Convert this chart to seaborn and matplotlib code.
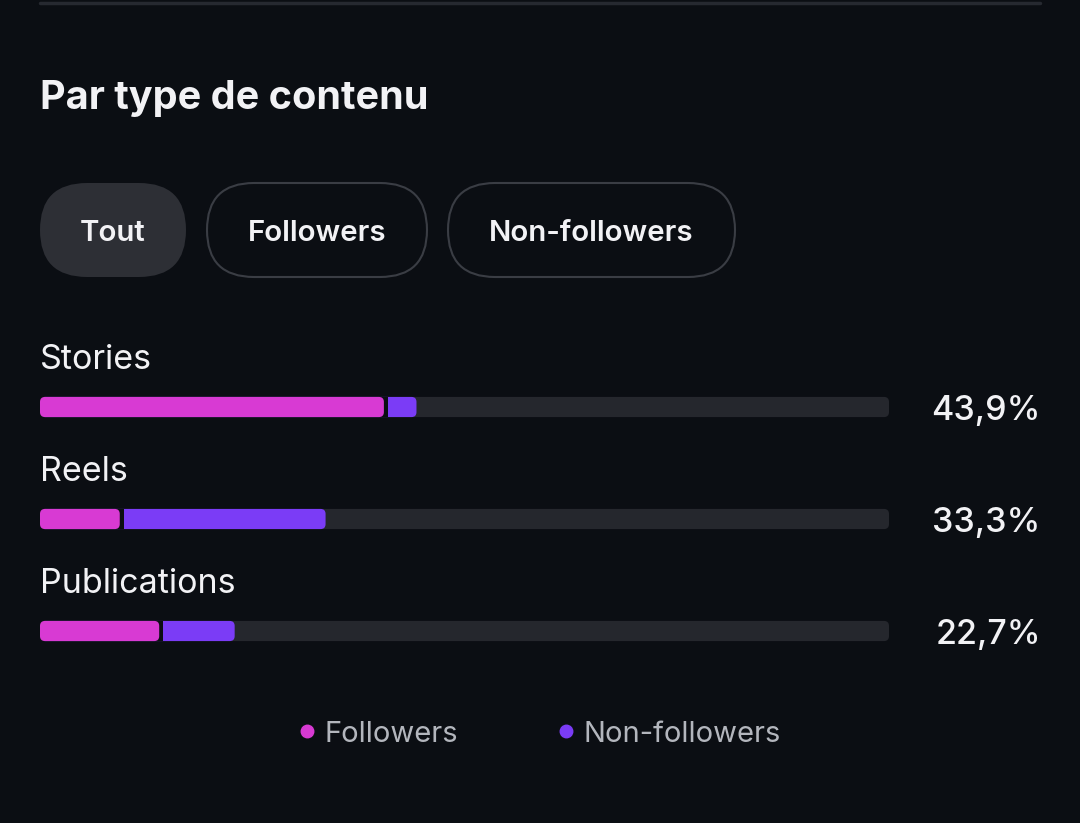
import pandas as pd
import matplotlib.pyplot as plt
import seaborn as sns
from matplotlib.patches import FancyBboxPatch
from matplotlib.lines import Line2D

# data
categories = ['Stories', 'Reels', 'Publications']
totals = [43.9, 33.3, 22.7]
followers = [40.1, 9.3, 13.9]
labels = ['43,9%', '33,3%', '22,7%']
filters = ['Tout', 'Followers', 'Non-followers']
legend_names = ['Followers', 'Non-followers']

BG = '#0b0e13'
TRACK = '#25272d'
PINK = '#d83ad3'
VIOLET = '#7b3cf6'
WHITE = '#f2f2f5'
GREY = '#b3b6bd'

sns.set_theme(style='white')
plt.rcParams['font.family'] = ['Inter', 'DejaVu Sans']

df = pd.DataFrame({'cat': categories, 'total': totals, 'fol': followers,
                   'full': [99] * len(categories)})
df['mask'] = df['fol'] + 0.5

W, H = 1080, 823
fig = plt.figure(figsize=(W / 100, H / 100), dpi=100, facecolor=BG)

# pixel-space overlay for header, pills and divider
deco = fig.add_axes([0, 0, 1, 1])
deco.set_xlim(0, W)
deco.set_ylim(H, 0)
deco.axis('off')
deco.set_facecolor(BG)
deco.plot([40, 1040], [3, 3], color='#262930', lw=2.5, solid_capstyle='round')
deco.text(40, 98, 'Par type de contenu', color=WHITE, fontsize=28.5,
          fontweight='bold', va='center', ha='left')

pills = [(40, 186), (207, 427), (448, 735)]
for i, (name, (x0, x1)) in enumerate(zip(filters, pills)):
    y0, y1 = 183, 277
    r = (y1 - y0) / 2
    if i == 0:
        box = FancyBboxPatch((x0, y0), x1 - x0, y1 - y0,
                             boxstyle=f'round,pad=0,rounding_size={r}',
                             fc='#2d2f35', ec='none')
    else:
        box = FancyBboxPatch((x0, y0), x1 - x0, y1 - y0,
                             boxstyle=f'round,pad=0,rounding_size={r}',
                             fc='none', ec='#3a3d44', lw=1.5)
    deco.add_patch(box)
    deco.text((x0 + x1) / 2, 233, name, color=WHITE, fontsize=21.2,
              fontweight='semibold', ha='center', va='center')

# bar axes: x in percent, rows 112 px apart
ax = fig.add_axes([40 / W, 1 - 687 / H, 849 / W, 336 / H])
ax.set_facecolor('none')


def add_bars(x, color):
    n0 = len(ax.patches)
    sns.barplot(data=df, y='cat', x=x, color=color, orient='h', width=0.18,
                ax=ax, saturation=1, linewidth=0)
    return list(ax.patches[n0:])


groups = [(add_bars('full', TRACK), True), (add_bars('total', VIOLET), True),
          (add_bars('mask', BG), False), (add_bars('fol', PINK), True)]

ax.set_xlim(0, 99)
ax.set_ylim(2.5, -0.5)
ax.axis('off')

# round bar ends (5 px radius), keeping the layer order
dx = 99 / 849
dy = 3 / 336
for z, (patches, rounded) in enumerate(groups):
    for p in patches:
        p.set_zorder(2 + z)
        if not rounded:
            continue
        fb = FancyBboxPatch(p.get_xy(), p.get_width(), p.get_height(),
                            boxstyle=f'round,pad=0,rounding_size={5 * dx}',
                            mutation_aspect=dy / dx, fc=p.get_facecolor(),
                            ec='none', zorder=2 + z)
        p.set_visible(False)
        ax.add_patch(fb)

for i, cat in enumerate(categories):
    ax.text(0, i - 0.42, cat, color=WHITE, fontsize=24.5, ha='left',
            va='center', clip_on=False)
    ax.text(116.7, i + 0.035, labels[i], color=WHITE, fontsize=24.5,
            fontweight='medium', ha='right', va='center', clip_on=False)

handles = [Line2D([], [], marker='o', ls='', color=c, markersize=9)
           for c in (PINK, VIOLET)]
leg = fig.legend(handles, legend_names, loc='center',
                 bbox_to_anchor=(537 / W, 1 - 734 / H), ncol=2, frameon=False,
                 fontsize=21, handletextpad=0.1, columnspacing=3.2,
                 handlelength=1.0)
for t in leg.get_texts():
    t.set_color(GREY)

fig.savefig('out.png', dpi=100, facecolor=BG)
